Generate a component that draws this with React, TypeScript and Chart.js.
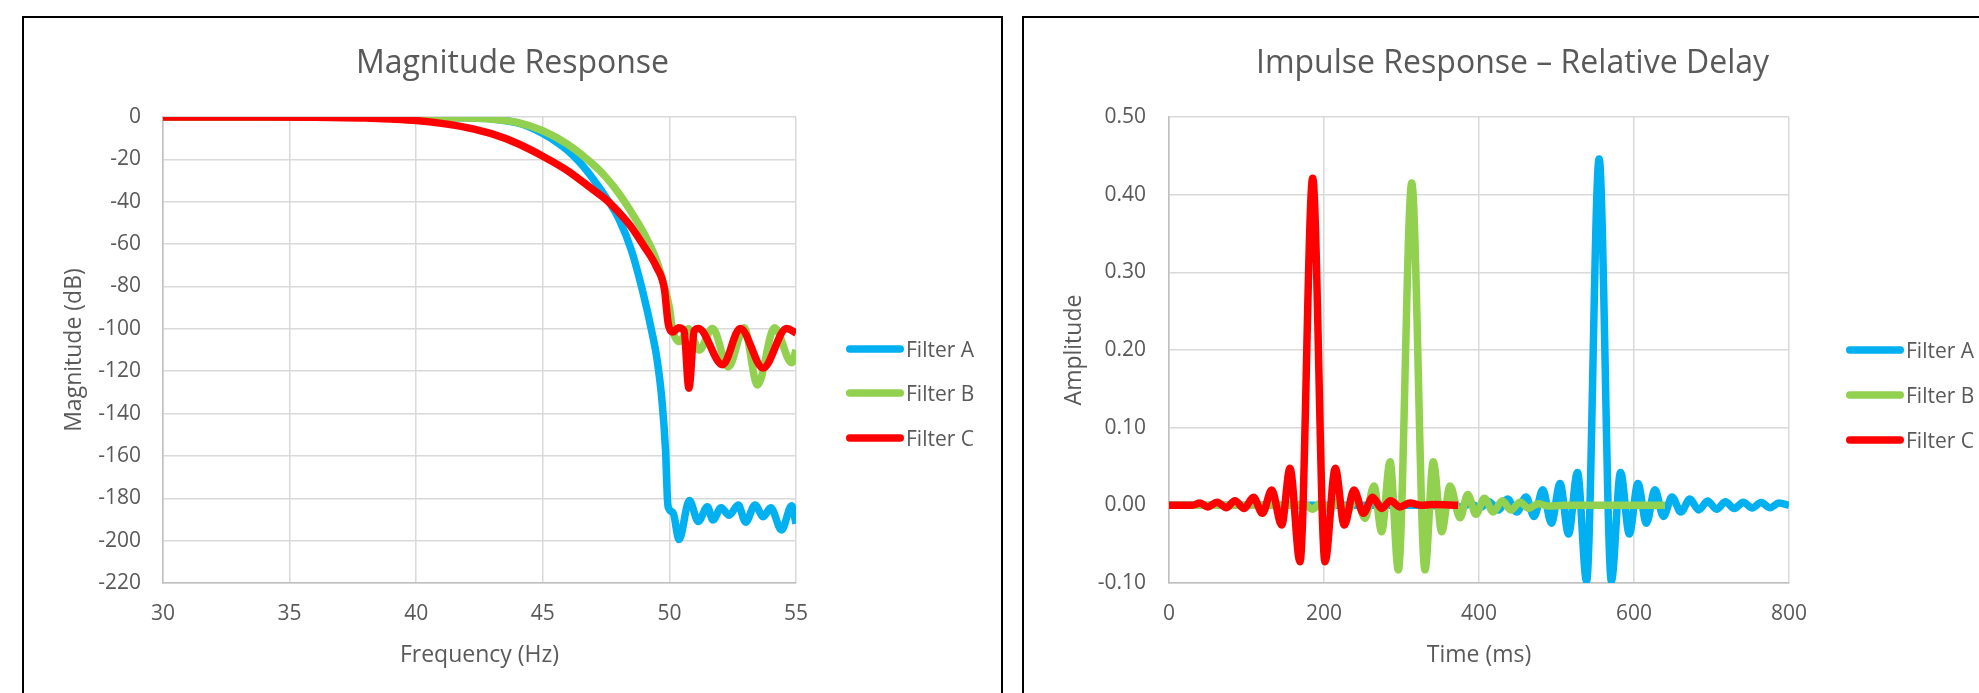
import React, { useEffect, useRef } from 'react';
import { Chart, registerables } from 'chart.js';

Chart.register(...registerables);

const FONT = '"Open Sans", "DejaVu Sans", sans-serif';
const TEXT = '#595959';
const GRID = '#D9D9D9';
const AXIS = '#BFBFBF';
const COLORS = ['#00B0F0', '#92D050', '#FF0000'];
const seriesNames = ['Filter A', 'Filter B', 'Filter C'];
const LINE_W = 7.5;

// ---------- Magnitude response (Hz, dB) ----------
const magFreqA = [30, 35, 38, 40, 42, 43, 44, 44.5, 45, 45.5, 46, 46.5, 47, 47.5, 48, 48.5, 49, 49.3, 49.5, 49.7, 49.85, 49.92, 49.96, 50.15, 50.38, 50.79, 51.14, 51.5, 51.72, 52.04, 52.36, 52.72, 53.01, 53.38, 53.71, 54.0, 54.43, 54.83, 55];
const magDbA = [0, 0, 0, -0.1, -0.4, -0.9, -2.8, -4.8, -7.8, -11.5, -16, -22, -29.5, -38, -48, -63, -85, -101, -113.5, -133, -158, -180, -184.5, -187, -199.5, -181, -191, -184, -190.3, -184.5, -188, -183.2, -191.3, -183.2, -188.7, -184.5, -195, -183.5, -192];

const magFreqB = [30, 38, 40, 42, 43, 44, 45, 46, 47, 47.5, 48, 48.5, 49, 49.5, 49.8, 50.0, 50.12, 50.4, 50.75, 51.18, 51.7, 52.33, 52.95, 53.48, 54.15, 54.83, 55];
const magDbB = [0, 0, -0.1, -0.5, -1.1, -2.6, -6.5, -13, -22.5, -28.5, -36, -45, -55, -68, -80, -90, -100, -106, -100, -110, -99.8, -118, -99.5, -126.5, -99.5, -116, -110];

const magFreqC = [30, 34, 36, 38, 39, 40, 41, 42, 43, 44, 45, 46, 47, 47.5, 48, 48.5, 49, 49.5, 49.8, 49.96, 50.15, 50.35, 50.58, 50.77, 50.98, 51.15, 52.1, 52.8, 53.7, 54.63, 55];
const magDbC = [0, 0, -0.1, -0.5, -1, -1.7, -3, -5, -8, -12.5, -18.5, -25.5, -34.5, -39, -45, -52, -61, -71, -81, -98, -101.5, -99.5, -101, -128, -101, -99.8, -117, -99.8, -118.5, -99.8, -102];

// ---------- Impulse response (ms, amplitude) ----------
const impTimeA = [0, 300, 330, 354, 365.5, 377, 389, 401, 412.9, 424.9, 436.8, 448.8, 460.7, 471.1, 482.3, 493.4, 504.6, 515.5, 527, 538.8, 555, 570.8, 582.7, 594, 605, 616, 627, 638, 649, 660.5, 672, 683.5, 695, 706.5, 718, 729.5, 741, 752.5, 764, 775.5, 787, 800];
const impAmpA = [0, 0, 0, -0.001, 0.001, -0.002, 0.002, -0.003, 0.0045, -0.006, 0.008, -0.0086, 0.0108, -0.0143, 0.02, -0.023, 0.028, -0.037, 0.0424, -0.0973, 0.446, -0.0973, 0.0424, -0.037, 0.028, -0.023, 0.02, -0.0143, 0.0108, -0.0086, 0.008, -0.006, 0.0055, -0.005, 0.0045, -0.004, 0.004, -0.0035, 0.0035, -0.003, 0.003, 0];

const impTimeB = [0, 160, 174, 185, 196, 207.5, 219, 230, 241.5, 252.9, 264.5, 274.4, 285.2, 295.9, 313.2, 330.3, 341, 351.9, 362.6, 375.5, 385.5, 396, 407, 418.4, 430, 441, 453, 464, 476, 490, 510, 640];
const impAmpB = [0, 0, 0.002, -0.005, 0.003, -0.005, 0.006, -0.008, 0.011, -0.0167, 0.025, -0.034, 0.056, -0.083, 0.415, -0.083, 0.056, -0.034, 0.025, -0.016, 0.014, -0.0115, 0.009, -0.0086, 0.006, -0.006, 0.004, -0.004, 0.002, -0.001, 0, 0];

const impTimeC = [0, 30, 40, 50, 62, 74, 85, 97, 109, 120.5, 132.5, 145.4, 156.1, 169, 185.4, 201.3, 214.6, 226.2, 238.7, 250.8, 262.8, 274.4, 286, 298, 311, 325, 340, 373];
const impAmpC = [0, 0, 0.003, -0.002, 0.004, -0.003, 0.006, -0.004, 0.0103, -0.0103, 0.0197, -0.0254, 0.0476, -0.0726, 0.421, -0.0726, 0.0476, -0.0254, 0.0197, -0.0103, 0.0103, -0.004, 0.006, -0.002, 0.003, 0, 0.001, 0];

const toPoints = (xs: number[], ys: number[]) => xs.map((x, i) => ({ x, y: ys[i] }));

const decorPlugin = {
  id: 'excelDecor',
  afterDraw(chart: any, _args: any, opts: any) {
    const ctx = chart.ctx as CanvasRenderingContext2D;
    ctx.save();
    ctx.fillStyle = TEXT;
    ctx.font = `32px ${FONT}`;
    ctx.textAlign = 'center';
    ctx.textBaseline = 'alphabetic';
    ctx.fillText(opts.title, chart.width / 2, opts.titleBaseline);
    chart.data.datasets.forEach((ds: any, i: number) => {
      const y = opts.rows[i];
      ctx.strokeStyle = ds.borderColor;
      ctx.lineWidth = LINE_W;
      ctx.lineCap = 'round';
      ctx.beginPath();
      ctx.moveTo(opts.lineX0 + LINE_W / 2, y);
      ctx.lineTo(opts.lineX1 - LINE_W / 2, y);
      ctx.stroke();
      ctx.font = `21px ${FONT}`;
      ctx.textAlign = 'left';
      ctx.fillStyle = TEXT;
      ctx.fillText(ds.label, opts.textX, y + 7.5);
    });
    ctx.restore();
  },
};

type Cfg = {
  series: { x: number; y: number }[][];
  title: string;
  xTitle: string;
  yTitle: string;
  xMin: number; xMax: number; xStep: number;
  yMin: number; yMax: number; yStep: number;
  yFmt: (v: number) => string;
  yWidth: number;
  yTickPad: number;
  padRight: number;
  rows: number[];
};

function buildConfig(c: Cfg): any {
  return {
    type: 'line',
    data: {
      datasets: c.series.map((s, i) => ({
        label: seriesNames[i],
        data: s,
        borderColor: COLORS[i],
        backgroundColor: COLORS[i],
        borderWidth: LINE_W,
        pointRadius: 0,
        pointHoverRadius: 0,
        fill: false,
        cubicInterpolationMode: 'monotone',
        borderJoinStyle: 'round',
        order: 3 - i,
      })),
    },
    options: {
      animation: false,
      responsive: false,
      events: [],
      layout: { padding: { top: 99, right: c.padRight, bottom: 0, left: 0 } },
      plugins: {
        legend: { display: false },
        title: { display: false },
        tooltip: { enabled: false },
        excelDecor: {
          title: c.title,
          titleBaseline: 55,
          rows: c.rows,
          lineX0: 822,
          lineX1: 880,
          textX: 882,
        },
      },
      scales: {
        x: {
          type: 'linear',
          min: c.xMin,
          max: c.xMax,
          ticks: {
            stepSize: c.xStep,
            color: TEXT,
            font: { family: FONT, size: 21 },
            padding: 18,
            maxRotation: 0,
            autoSkip: false,
          },
          grid: { color: GRID, lineWidth: 1.5, drawTicks: false },
          border: { color: AXIS, width: 1.5 },
          title: {
            display: true,
            text: c.xTitle,
            color: TEXT,
            font: { family: FONT, size: 23 },
            padding: { top: 0, bottom: 24 },
          },
          afterFit: (s: any) => { s.height = 110; },
        },
        y: {
          type: 'linear',
          min: c.yMin,
          max: c.yMax,
          ticks: {
            stepSize: c.yStep,
            color: TEXT,
            font: { family: FONT, size: 21 },
            padding: c.yTickPad,
            callback: (v: any) => c.yFmt(Number(v)),
          },
          grid: { color: GRID, lineWidth: 1.5, drawTicks: false },
          border: { color: AXIS, width: 1.5 },
          title: {
            display: true,
            text: c.yTitle,
            color: TEXT,
            font: { family: FONT, size: 23 },
            padding: { top: 37, bottom: 0 },
          },
          afterFit: (s: any) => { s.width = c.yWidth; },
        },
      },
    },
    plugins: [decorPlugin],
  };
}

const cleanZero = (v: number) => (Math.abs(v) < 1e-9 ? 0 : v);

const magnitudeCfg = (): Cfg => ({
  series: [toPoints(magFreqA, magDbA), toPoints(magFreqB, magDbB), toPoints(magFreqC, magDbC)],
  title: 'Magnitude Response',
  xTitle: 'Frequency (Hz)',
  yTitle: 'Magnitude (dB)',
  xMin: 30, xMax: 55, xStep: 5,
  yMin: -220, yMax: 0, yStep: 20,
  yFmt: (v) => String(Math.round(cleanZero(v))),
  yWidth: 139,
  yTickPad: 22,
  padRight: 205,
  rows: [331, 375, 420],
});

const impulseCfg = (): Cfg => ({
  series: [toPoints(impTimeA, impAmpA), toPoints(impTimeB, impAmpB), toPoints(impTimeC, impAmpC)],
  title: 'Impulse Response \u2013 Relative Delay',
  xTitle: 'Time (ms)',
  yTitle: 'Amplitude',
  xMin: 0, xMax: 800, xStep: 200,
  yMin: -0.1, yMax: 0.5, yStep: 0.1,
  yFmt: (v) => cleanZero(Math.round(v * 100) / 100).toFixed(2),
  yWidth: 145,
  yTickPad: 23,
  padRight: 212,
  rows: [332, 377, 422],
});

function ChartCanvas({ make }: { make: () => Cfg }) {
  const ref = useRef<HTMLCanvasElement>(null);
  useEffect(() => {
    if (!ref.current) return;
    const chart = new Chart(ref.current, buildConfig(make()));
    return () => chart.destroy();
  }, []);
  return <canvas ref={ref} width={977} height={675} style={{ display: 'block', width: 977, height: 675 }} />;
}

export default function App() {
  const box: React.CSSProperties = {
    position: 'absolute',
    top: 16,
    width: 977,
    height: 720,
    border: '2px solid #000',
    background: '#fff',
  };
  return (
    <div style={{ position: 'absolute', left: 0, top: 0, width: 1979, height: 693, overflow: 'hidden', background: '#fff' }}>
      <div style={{ ...box, left: 22 }}>
        <ChartCanvas make={magnitudeCfg} />
      </div>
      <div style={{ ...box, left: 1022 }}>
        <ChartCanvas make={impulseCfg} />
      </div>
    </div>
  );
}
